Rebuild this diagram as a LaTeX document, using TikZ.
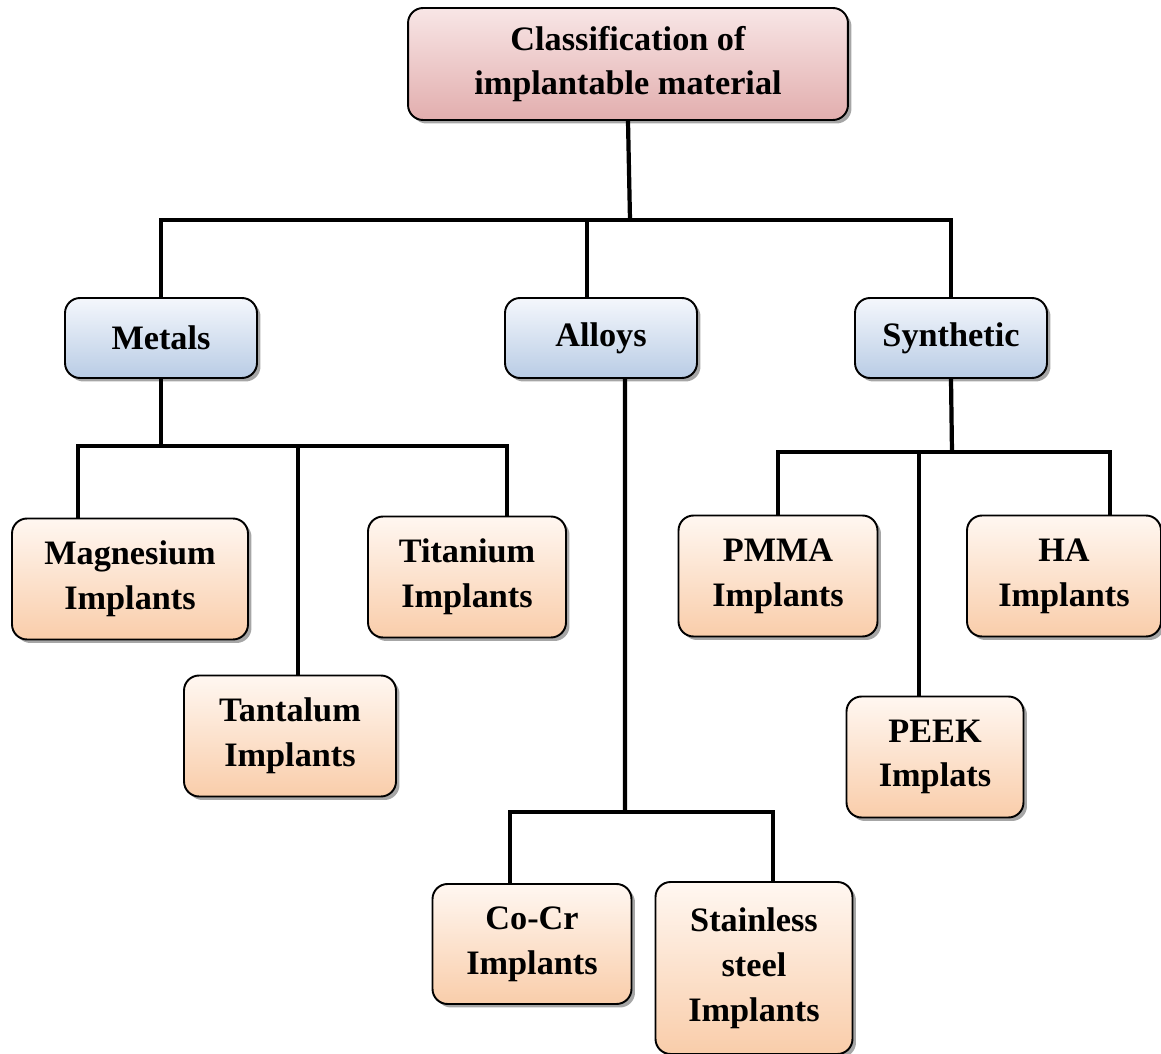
\documentclass[tikz,border=0pt]{standalone}
\usepackage{fontspec}
\setmainfont{Liberation Serif}
\usetikzlibrary{shadows, positioning, calc}

\definecolor{rootTop}{HTML}{F8E6E6}
\definecolor{rootBot}{HTML}{E2AEAE}
\definecolor{catTop}{HTML}{F4F7FC}
\definecolor{catBot}{HTML}{B9CCE5}
\definecolor{leafTop}{HTML}{FFF7F1}
\definecolor{leafBot}{HTML}{F9CDAA}

\begin{document}
\begin{tikzpicture}[
    x=0.02cm, y=-0.02cm,
    base/.style={rectangle, draw=black, line width=1.1pt, rounded corners=0.3cm, align=center,
        font=\fontsize{19.5}{25.5}\selectfont\bfseries, inner sep=2pt,
        drop shadow={shadow xshift=0.07cm, shadow yshift=-0.07cm, fill=black, opacity=0.35}},
    root/.style={base, top color=rootTop, bottom color=rootBot, minimum width=8.8cm, minimum height=2.24cm},
    cat/.style={base, top color=catTop, bottom color=catBot, minimum width=3.84cm, minimum height=1.6cm},
    leaf/.style={base, top color=leafTop, bottom color=leafBot, minimum height=2.42cm},
    link/.style={line width=2.4pt, black}
]
    \useasboundingbox (0,0) rectangle (1161,1054);

    % Top
    \node (root) [root] at (628,64) {Classification of\\implantable material};

    % Categories
    \node (metals) [cat] at (161,338) {Metals};
    \node (alloys) [cat] at (601,338) {Alloys};
    \node (synthetic) [cat] at (951,338) {Synthetic};

    % Metals group
    \node (magnesium) [leaf, minimum width=4.72cm] at (130,579) {Magnesium\\Implants};
    \node (titanium) [leaf, minimum width=3.96cm] at (467,577) {Titanium\\Implants};
    \node (tantalum) [leaf, minimum width=4.24cm] at (290,736) {Tantalum\\Implants};

    % Alloys group
    \node (cocr) [leaf, minimum width=3.98cm, minimum height=2.4cm] at (532,944) {Co-Cr\\Implants};
    \node (steel) [leaf, minimum width=3.94cm, minimum height=3.44cm] at (754,968) {Stainless\\steel\\Implants};

    % Synthetic group
    \node (pmma) [leaf, minimum width=3.98cm] at (778,576) {PMMA\\Implants};
    \node (ha) [leaf, minimum width=3.88cm] at (1064,576) {HA\\Implants};
    \node (peek) [leaf, minimum width=3.54cm] at (935,757) {PEEK\\Implats};

    % ========== Connectors ==========
    \coordinate (bus) at (630,220);
    \coordinate (metalsbus) at (161,446);
    \coordinate (alloysbus) at (625,812);
    \coordinate (synbus) at (952,452);

    % root -> categories
    \draw [link] (root.south) -- (bus);
    \draw [link] (metals.north) |- (synthetic.north |- bus) -- (synthetic.north);
    \draw [link] ([xshift=-0.28cm]alloys.north) -- ([xshift=-0.28cm]alloys.north |- bus);

    % metals -> implants
    \coordinate (magtop) at ([xshift=-1.04cm]magnesium.north);
    \coordinate (tittop) at ([xshift=0.8cm]titanium.north);
    \coordinate (tantop) at ([xshift=0.16cm]tantalum.north);
    \draw [link] (metals.south) -- (metalsbus);
    \draw [link] (magtop) |- (tittop |- metalsbus) -- (tittop);
    \draw [link] (tantop) -- (tantop |- metalsbus);

    % alloys -> implants
    \coordinate (cocrtop) at ([xshift=-0.44cm]cocr.north);
    \coordinate (steeltop) at ([xshift=0.38cm]steel.north);
    \draw [link] ([xshift=0.48cm]alloys.south) -- (alloysbus);
    \draw [link] (cocrtop) |- (steeltop |- alloysbus) -- (steeltop);

    % synthetic -> implants
    \coordinate (hatop) at ([xshift=0.92cm]ha.north);
    \coordinate (peektop) at ([xshift=-0.32cm]peek.north);
    \draw [link] (synthetic.south) -- (synbus);
    \draw [link] (pmma.north) |- (hatop |- synbus) -- (hatop);
    \draw [link] (peektop) -- (peektop |- synbus);
\end{tikzpicture}
\end{document}
